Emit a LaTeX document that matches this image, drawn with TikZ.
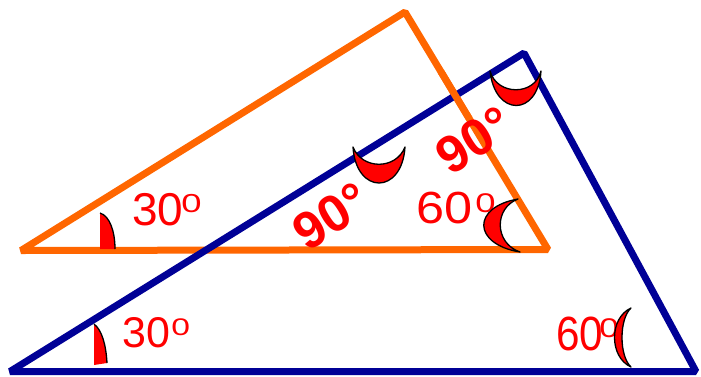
\documentclass[tikz,border=0pt]{standalone}
\usepackage{fontspec}
\usetikzlibrary{calc}
\setmainfont{Liberation Sans}
\definecolor{myorange}{RGB}{255,102,0}
\definecolor{mynavy}{RGB}{0,0,150}
\begin{document}
\begin{tikzpicture}[x=1pt,y=-1pt,
  otri/.style={draw=myorange,line width=7pt,line join=bevel},
  btri/.style={draw=mynavy,line width=7pt,line join=bevel},
  lbl/.style={text=red,inner sep=0pt,anchor=base west,font=\fontsize{#1}{#1}\selectfont},
  big/.style={text=red,inner sep=0pt,anchor=center,rotate=32,font=\bfseries\fontsize{52}{52}\selectfont},
  anglemark/.style={fill=red,draw=black,line width=1.3pt,line join=round},
  markfill/.style={fill=red},
  markedge/.style={draw=black,line width=1.3pt}]
\useasboundingbox (0,0) rectangle (701,376);
% vertices
\coordinate (oL) at (21,250.5);
\coordinate (oT) at (405,12);
\coordinate (oR) at (548,249.5);
\coordinate (bL) at (10,371.5);
\coordinate (bT) at (524,53);
\coordinate (bR) at (696,371.5);
% triangles
\draw[otri] (oL) -- (oT) -- (oR) -- cycle;
\draw[btri] (bL) -- (bT) -- (bR) -- cycle;
\draw[otri,line cap=butt] ($(oT)!0.25!(oR)$) -- ($(oT)!0.45!(oR)$);
% labels
\node[lbl=46] (o30) at (132,225) {30};
\node[lbl=26,xscale=1.4] (o30s) at (181,212) {0};
\node[lbl=43] (b30) at (122,347) {30};
\node[lbl=24,xscale=1.4] (b30s) at (171,335) {0};
\node[lbl=45,xscale=1.12] (o60) at (416,223) {60};
\node[lbl=27,xscale=1.35] (o60s) at (475,212) {0};
\node[lbl=48,xscale=0.88] (b60) at (556,350) {60};
\node[lbl=27,xscale=1.3] (b60s) at (599,337) {0};
\node[big] (n90a) at (331,216) {90°};
\node[big] (n90b) at (474,140) {90°};
% angle marks
\fill[markfill] (100,249) -- (100,213) .. controls (110,216) and (115,232) .. (115,249) -- cycle;
\draw[markedge] (100,213) .. controls (110,216) and (115,232) .. (115,249);
\fill[markfill] (94,365) -- (94,324) .. controls (102,330) and (106,345) .. (107,363) -- cycle;
\draw[markedge] (94,324) .. controls (102,330) and (106,345) .. (107,363);
\filldraw[anglemark] (353,147) .. controls (356,195) and (402,195) .. (405,147) .. controls (396,170) and (362,170) .. cycle;
\filldraw[anglemark] (490,71) .. controls (495,117) and (538,117) .. (541,71) .. controls (535,96) and (497,96) .. cycle;
\filldraw[anglemark] (518,199) .. controls (472,207) and (472,244) .. (520,252) .. controls (494,243) and (494,208) .. cycle;
\filldraw[anglemark] (631,308) .. controls (609,318) and (609,357) .. (631,367) .. controls (619,356) and (619,319) .. cycle;
\end{tikzpicture}
\end{document}
